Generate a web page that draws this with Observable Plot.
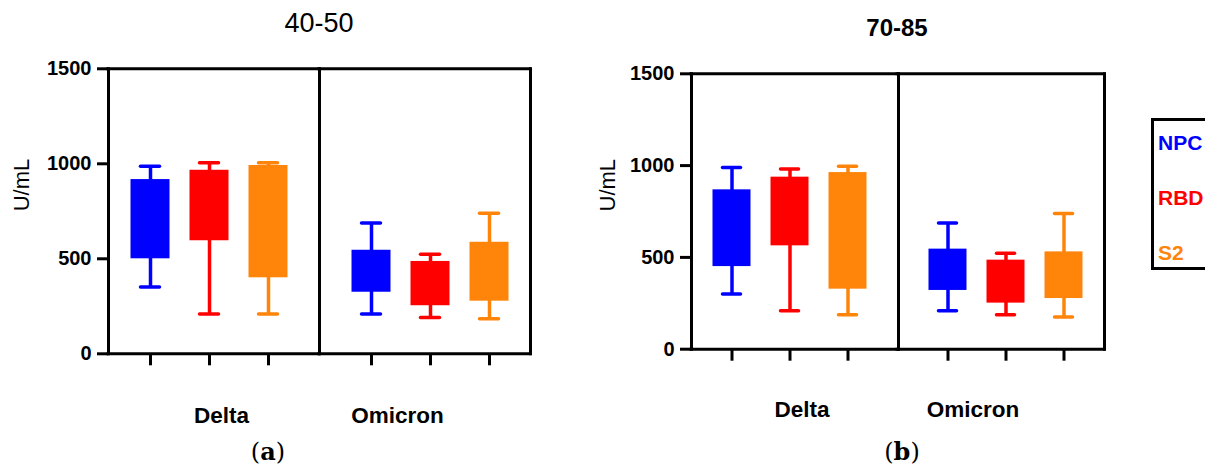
<!DOCTYPE html>
<html>
<head>
<meta charset="utf-8">
<script src="https://cdn.jsdelivr.net/npm/d3@7"></script>
<script src="https://cdn.jsdelivr.net/npm/@observablehq/plot@0.6"></script>
<style>
  body { margin: 0; background: #fff; }
  #wrap { position: relative; width: 1205px; height: 475px; overflow: hidden; background: #fff;
          font-family: Arial, "Liberation Sans", sans-serif; color: #000; }
  .abs { position: absolute; line-height: 1; white-space: nowrap; }
  .title { transform: translateX(-50%); }
  .sub { font-family: "DejaVu Serif", "Liberation Serif", serif; font-size: 24px; transform: translateX(-50%); }
  #legend { position: absolute; left: 1151px; top: 118px; width: 90px; height: 152px; border: 3px solid #000; box-sizing: border-box; }
  .leg { position: absolute; left: 4px; font-weight: bold; font-size: 21px; line-height: 1; }
  .panel svg g[aria-label="y-axis tick label"] { font-weight: bold; font-size: 20px; }
</style>
</head>
<body>
<div id="wrap">
  <div id="pa" class="abs panel" style="left:0;top:0;width:600px;"></div>
  <div id="pb" class="abs panel" style="left:580px;top:0;width:570px;"></div>
  <div class="abs title" style="left:319px;top:10px;font-size:27px;">40-50</div>
  <div class="abs title" style="left:897px;top:16px;font-size:24px;font-weight:bold;">70-85</div>
  <div class="abs sub" style="left:268px;top:440px;">(<b>a</b>)</div>
  <div class="abs sub" style="left:902px;top:440px;">(<b>b</b>)</div>
  <div id="legend"></div>
</div>
<script>
// ---- data ----
const variants = ["Delta", "Omicron"];
const antigens = ["NPC", "RBD", "S2"];
const colors = ["#0000FF", "#FF0000", "#FF840A"];
const yTicks = [0, 500, 1000, 1500];

// panel (a) 40-50, order: Delta NPC, RBD, S2, Omicron NPC, RBD, S2
const minA = [351, 210, 210, 210, 191, 184];
const q1A  = [500, 595, 400, 324, 253, 277];
const q3A  = [917, 966, 991, 545, 486, 587];
const maxA = [987, 1005, 1005, 689, 524, 740];

// panel (b) 70-85
const minB = [300, 209, 187, 209, 187, 176];
const q1B  = [450, 563, 327, 320, 251, 276];
const q3B  = [868, 937, 962, 545, 485, 530];
const maxB = [990, 982, 997, 688, 523, 739];

function rowsOf(mn, a, b, mx) {
  return variants.flatMap((v, i) => antigens.map((g, j) => {
    const k = i * antigens.length + j;
    return {variant: v, antigen: g, min: mn[k], q1: a[k], q3: b[k], max: mx[k]};
  }));
}

function panel(rows, o) {
  const sw = 3;
  return Plot.plot({
    width: o.width, height: o.height,
    marginLeft: o.ml, marginRight: o.mr, marginTop: o.mt, marginBottom: o.mb,
    style: {fontFamily: "Arial, 'Liberation Sans', sans-serif", color: "#000", background: "#fff"},
    fx: {domain: variants, padding: 0.09, axis: null},
    x: {domain: antigens, paddingInner: 0.345, paddingOuter: 0.35, axis: null},
    y: {domain: [0, 1500], axis: null},
    color: {domain: antigens, range: colors},
    marks: [
      // whiskers
      Plot.ruleX(rows, {fx: "variant", x: "antigen", y1: "min", y2: "max", stroke: "antigen", strokeWidth: 3.5}),
      // boxes
      Plot.barY(rows, {fx: "variant", x: "antigen", y1: "q1", y2: "q3", fill: "antigen"}),
      // caps
      Plot.tickY(rows, {fx: "variant", x: "antigen", y: "max", stroke: "antigen", strokeWidth: 3.5, strokeLinecap: "round", inset: 10}),
      Plot.tickY(rows, {fx: "variant", x: "antigen", y: "min", stroke: "antigen", strokeWidth: 3.5, strokeLinecap: "round", inset: 10}),
      // frame pieces
      Plot.ruleY([0, 1500], {facetAnchor: "left", insetRight: -10, strokeWidth: sw, strokeLinecap: "square"}),
      Plot.ruleY([0, 1500], {facetAnchor: "right", insetLeft: -10, strokeWidth: sw, strokeLinecap: "square"}),
      Plot.frame({anchor: "left", facetAnchor: "left", strokeWidth: sw, strokeLinecap: "square"}),
      Plot.frame({anchor: "right", facetAnchor: "right", strokeWidth: sw, strokeLinecap: "square"}),
      Plot.frame({anchor: "right", facetAnchor: "left", dx: 10, strokeWidth: sw}),
      // axes
      Plot.axisY({ticks: yTicks, tickFormat: d => String(d), tickSize: 11, tickPadding: 6, strokeWidth: sw, fontSize: 20, fontWeight: "bold", label: null}),
      Plot.axisX({tickSize: 12, strokeWidth: sw, tickFormat: () => "", label: null}),
      // group labels
      Plot.text([variants[0]], {fx: [variants[0]], x: [antigens[1]], frameAnchor: "bottom", lineAnchor: "bottom", dy: o.labelDy, dx: 12, fontSize: 22.5, fontWeight: "bold"}),
      Plot.text([variants[1]], {fx: [variants[1]], x: [antigens[1]], frameAnchor: "bottom", lineAnchor: "bottom", dy: o.labelDy, dx: -33, fontSize: 22.5, fontWeight: "bold"}),
      // y label
      Plot.text(["U/mL"], {frameAnchor: "left", facetAnchor: "left", rotate: -90, dx: o.yLabelDx, fontSize: 22})
    ]
  });
}

document.getElementById("pa").append(panel(rowsOf(minA, q1A, q3A, maxA),
  {width: 600, height: 440, ml: 107.5, mr: 69, mt: 68.3, mb: 86.7, labelDy: 69, yLabelDx: -86.5}));
document.getElementById("pb").append(panel(rowsOf(minB, q1B, q3B, maxB),
  {width: 570, height: 440, ml: 110.5, mr: 46.7, mt: 73.3, mb: 91.3, labelDy: 68, yLabelDx: -84}));

// legend
const leg = document.getElementById("legend");
const tops = [11, 66, 121];
antigens.forEach((a, i) => {
  const d = document.createElement("div");
  d.className = "leg";
  d.style.top = tops[i] + "px";
  d.style.color = colors[i];
  d.textContent = a;
  leg.append(d);
});
</script>
</body>
</html>
